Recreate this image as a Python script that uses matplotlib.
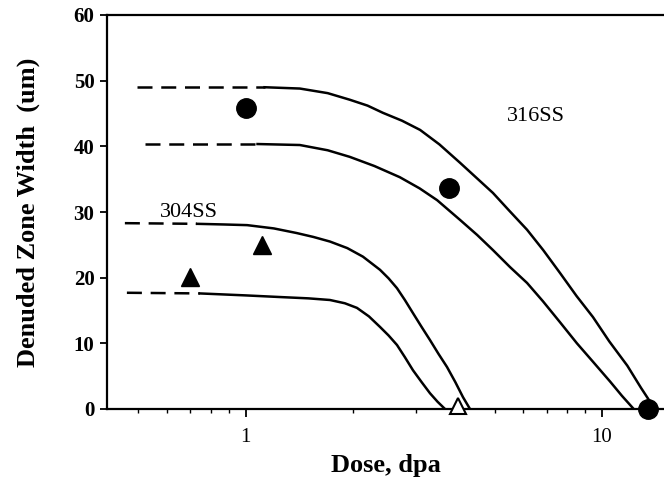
import matplotlib
matplotlib.use("Agg")
import matplotlib.pyplot as plt
from matplotlib.ticker import FixedLocator, LogLocator, NullFormatter, FixedFormatter

plt.rcParams['font.family'] = ['Liberation Serif', 'DejaVu Serif']

# 316SS, upper curve (dashed plateau, then solid fall-off)
a_dash_x = [0.495, 1.13]
a_dash_y = [49.0, 49.0]
a_x = [1.13, 1.42, 1.7, 1.96, 2.2, 2.43, 2.75, 3.09, 3.5, 4.0, 4.45, 4.95, 5.5, 6.17,
       6.85, 7.64, 8.5, 9.45, 10.5, 11.8, 12.9, 14.1]
a_y = [49.0, 48.8, 48.1, 47.1, 46.2, 45.1, 43.9, 42.5, 40.3, 37.5, 35.2, 32.9, 30.2, 27.3,
       24.2, 20.7, 17.2, 14.0, 10.3, 6.6, 3.2, 0.0]

# 316SS, lower curve
b_dash_x = [0.521, 1.08]
b_dash_y = [40.35, 40.35]
b_x = [1.08, 1.42, 1.7, 1.96, 2.3, 2.71, 3.08, 3.45, 4.0, 4.47, 4.95, 5.53, 6.17, 6.84,
       7.64, 8.52, 9.45, 10.55, 11.4, 12.3]
b_y = [40.35, 40.2, 39.4, 38.4, 37.0, 35.3, 33.6, 31.8, 28.8, 26.5, 24.2, 21.6, 19.2, 16.4,
       13.2, 10.0, 7.2, 4.2, 2.0, 0.0]

# 304SS, upper curve
c_dash_x = [0.458, 0.73]
c_dash_y = [28.3, 28.2]
c_x = [0.73, 0.87, 1.01, 1.2, 1.39, 1.55, 1.725, 1.93, 2.135, 2.384, 2.52, 2.661, 2.8,
       2.951, 3.12, 3.294, 3.48, 3.677, 3.88, 4.078, 4.267]
c_y = [28.2, 28.1, 28.0, 27.5, 26.8, 26.2, 25.5, 24.5, 23.2, 21.2, 19.9, 18.4, 16.6,
       14.6, 12.5, 10.5, 8.4, 6.4, 4.1, 1.8, 0.0]

# 304SS, lower curve
d_dash_x = [0.464, 0.744]
d_dash_y = [17.7, 17.6]
d_x = [0.744, 1.0, 1.248, 1.5, 1.725, 1.9, 2.054, 2.22, 2.384, 2.52, 2.661, 2.8, 2.951,
       3.12, 3.294, 3.46, 3.63]
d_y = [17.6, 17.3, 17.05, 16.85, 16.6, 16.1, 15.4, 14.1, 12.5, 11.2, 9.75, 7.9, 5.9,
       4.1, 2.4, 1.1, 0.0]

# measured points
ss316_x = [1.0, 3.73, 13.5]
ss316_y = [45.8, 33.6, 0.0]
ss304_x = [0.70, 1.11]
ss304_y = [20.1, 25.0]
ss304_open_x = [3.95]
ss304_open_y = [0.4]

fig = plt.figure(figsize=(6.64, 4.83), dpi=100)
ax = fig.add_axes([107/664, 74/483, 557/664, 394/483])

lw = 1.8
for dx, dy, sx, sy in [(a_dash_x, a_dash_y, a_x, a_y), (b_dash_x, b_dash_y, b_x, b_y),
                       (c_dash_x, c_dash_y, c_x, c_y), (d_dash_x, d_dash_y, d_x, d_y)]:
    ax.plot(dx, dy, color='black', lw=lw, dashes=(6, 3.5), solid_capstyle='butt')
    ax.plot(sx, sy, color='black', lw=lw, solid_joinstyle='round')

ax.plot(ss316_x, ss316_y, 'o', color='black', ms=14, clip_on=False, zorder=5)
ax.plot(ss304_x, ss304_y, '^', color='black', ms=13, clip_on=False, zorder=5)
ax.plot(ss304_open_x, ss304_open_y, '^', mfc='white', mec='black', mew=1.5, ms=12,
        clip_on=False, zorder=5)

ax.text(0.574, 29.3, '304SS', fontsize=16, ha='left', va='baseline')
ax.text(6.55, 44.5, '316SS', fontsize=16, ha='center', va='center')

ax.set_xscale('log')
ax.set_xlim(0.408, 14.96)
ax.set_ylim(0, 60)

ax.xaxis.set_major_locator(FixedLocator([1, 10]))
ax.xaxis.set_major_formatter(FixedFormatter(['1', '10']))
ax.xaxis.set_minor_locator(LogLocator(base=10, subs=[2, 3, 4, 5, 6, 7, 8, 9]))
ax.xaxis.set_minor_formatter(NullFormatter())
ax.set_yticks([0, 10, 20, 30, 40, 50, 60])

ax.tick_params(axis='x', which='major', direction='out', length=6, width=1.3, pad=8, labelsize=15)
ax.tick_params(axis='x', which='minor', direction='out', length=3, width=1.0)
ax.tick_params(axis='y', which='major', direction='out', length=5, width=1.3, pad=4, labelsize=15)
for lab in ax.get_yticklabels():
    lab.set_fontweight('bold')

for side in ['left', 'bottom', 'top']:
    ax.spines[side].set_linewidth(1.6)
ax.spines['right'].set_visible(False)

ax.set_xlabel('Dose, dpa', fontsize=19, fontweight='bold')
ax.set_ylabel('Denuded Zone Width  (um)', fontsize=19, fontweight='bold')
ax.xaxis.set_label_coords(0.5, -0.115)
ax.yaxis.set_label_coords(-0.12, 0.5)

fig.savefig('out.png', dpi=100)
